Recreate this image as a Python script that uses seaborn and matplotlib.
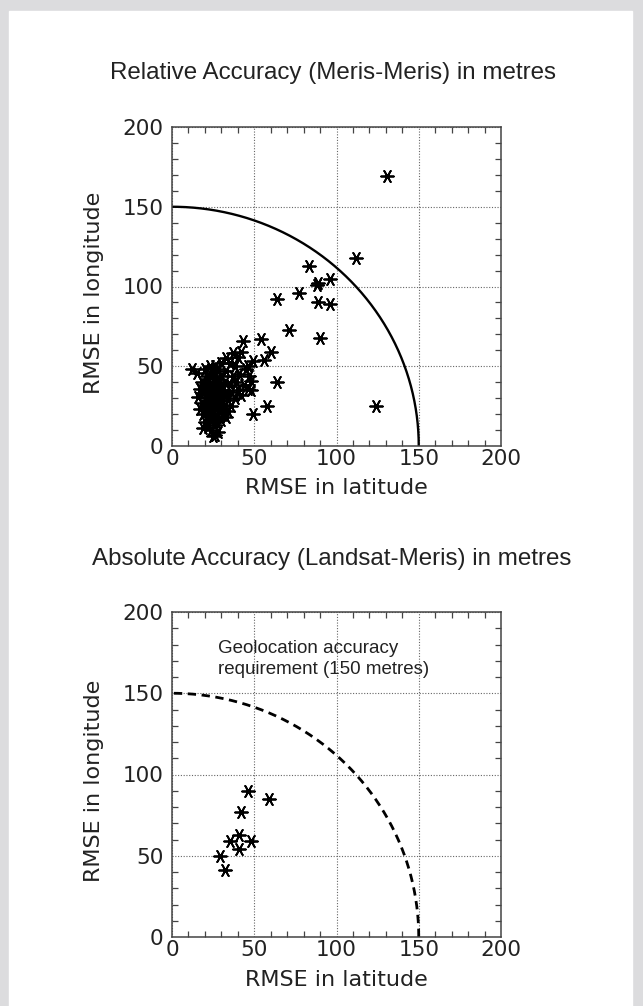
"""Geolocation accuracy scatter: relative (Meris-Meris) and absolute (Landsat-Meris)."""

import matplotlib
matplotlib.use("Agg")
import matplotlib.pyplot as plt
import numpy as np
import pandas as pd
import seaborn as sns
from matplotlib.patches import Rectangle
from matplotlib.ticker import MultipleLocator

# RMSE (metres) per scene pair
rel_lat = [18, 20, 22, 24, 26, 28, 30, 19, 21, 23, 25, 27, 29, 31, 33,
           18, 20, 22, 24, 26, 28, 30, 32, 34, 19, 21, 23, 25, 27, 29, 31,
           20, 22, 24, 26, 28, 25, 23, 27, 21, 25, 23, 17, 16, 17, 35, 36,
           37, 38, 34, 36, 39, 32, 33, 28, 30, 35, 40, 41, 44, 42, 45, 47,
           46, 38, 40, 15, 12, 20, 26, 33, 37, 29, 23, 27, 21, 31, 19, 26,
           30, 33, 24, 22, 28, 30, 26, 24, 21, 23, 25, 27, 22, 26, 24, 28,
           43, 42, 54, 60, 56, 49, 48, 46, 48, 64, 58, 49,
           131, 112, 83, 96, 88, 89, 77, 64, 89, 96, 71, 90, 124]
rel_lon = [40, 38, 42, 36, 40, 38, 44, 33, 30, 34, 31, 33, 30, 35, 32,
           27, 25, 28, 24, 27, 25, 28, 26, 29, 20, 22, 19, 21, 18, 22, 20,
           15, 12, 10, 13, 9, 6, 16, 15, 44, 46, 50, 36, 31, 23, 38, 34,
           44, 30, 22, 25, 40, 40, 47, 48, 52, 52, 35, 45, 38, 32, 48, 44,
           36, 50, 56, 46, 48, 48, 50, 55, 58, 35, 26, 29, 36, 24, 11, 7,
           16, 18, 28, 31, 33, 38, 44, 39, 27, 37, 34, 23, 19, 31, 17, 42,
           66, 59, 67, 59, 54, 53, 41, 50, 35, 40, 25, 20,
           169, 118, 113, 105, 101, 102, 96, 92, 90, 89, 73, 68, 25]

abs_lat = [29, 32, 35, 41, 41, 42, 46, 48, 59]
abs_lon = [50, 41, 59, 63, 54, 77, 90, 59, 85]

REQUIREMENT = 150  # metres
AXIS_MAX = 200
MAJOR = [0, 50, 100, 150, 200]

TITLE_TOP = "Relative Accuracy (Meris-Meris) in metres"
TITLE_BOTTOM = "Absolute Accuracy (Landsat-Meris) in metres"
NOTE = "Geolocation accuracy\nrequirement (150 metres)"

W, H = 643, 1006

sns.set_style("white")
plt.rcParams["font.family"] = ["DejaVu Sans"]

fig = plt.figure(figsize=(W / 100, H / 100), dpi=100)
fig.patch.set_facecolor("#dcdcde")
fig.add_artist(Rectangle((9 / W, 0), (632 - 9) / W, 1 - 11 / H,
                         transform=fig.transFigure, color="white", zorder=0))

ax1 = fig.add_axes([172 / W, 1 - 446 / H, 329 / W, 319 / H])
ax2 = fig.add_axes([172 / W, 1 - 937 / H, 329 / W, 325 / H])

theta = np.linspace(0, np.pi / 2, 200)
circle = pd.DataFrame({"x": REQUIREMENT * np.cos(theta), "y": REQUIREMENT * np.sin(theta)})

star = (6, 2, 90)


def style_axes(ax):
    ax.set_facecolor("white")
    ax.set_xlim(0, AXIS_MAX)
    ax.set_ylim(0, AXIS_MAX)
    ax.set_xticks(MAJOR)
    ax.set_yticks(MAJOR)
    ax.set_xticklabels([str(v) for v in MAJOR])
    ax.set_yticklabels([str(v) for v in MAJOR])
    ax.xaxis.set_minor_locator(MultipleLocator(10))
    ax.yaxis.set_minor_locator(MultipleLocator(10))
    ax.tick_params(which="major", length=0, labelsize=15.5, colors="#222")
    ax.tick_params(axis="x", which="major", pad=2)
    ax.tick_params(axis="y", which="major", pad=6)
    ax.tick_params(which="minor", direction="in", length=4, width=0.9,
                   color="#444", top=True, right=True, bottom=True, left=True)
    ax.grid(True, which="major", linestyle=(0, (1, 1.5)), color="#666", linewidth=0.8)
    for sp in ax.spines.values():
        sp.set_visible(True)
        sp.set_color("#444")
        sp.set_linewidth(1.1)
    ax.set_xlabel("RMSE in latitude", fontsize=16, color="#222")
    ax.set_ylabel("RMSE in longitude", fontsize=16, color="#222")
    ax.xaxis.set_label_coords(0.5, -0.1)
    ax.yaxis.set_label_coords(-0.208, 0.48)


sns.lineplot(data=circle, x="x", y="y", sort=False, color="black", linewidth=1.7, ax=ax1)
sns.scatterplot(x=rel_lat, y=rel_lon, marker=star, s=85, color="black",
                linewidth=1.3, ax=ax1, zorder=3)
style_axes(ax1)

sns.lineplot(data=circle, x="x", y="y", sort=False, color="black", linewidth=2.0,
             linestyle=(0, (3, 2)), ax=ax2)
sns.scatterplot(x=abs_lat, y=abs_lon, marker=star, s=85, color="black",
                linewidth=1.3, ax=ax2, zorder=3)
style_axes(ax2)
ax2.text(28, 171, NOTE, fontsize=13.5, family="Liberation Sans", color="#222",
         ha="left", va="center", linespacing=1.3)

fig.text(333 / W, 1 - 73 / H, TITLE_TOP, fontsize=17.4, family="Liberation Sans",
         ha="center", va="center", color="#222")
fig.text(332 / W, 1 - 559 / H, TITLE_BOTTOM, fontsize=17.4, family="Liberation Sans",
         ha="center", va="center", color="#222")

fig.savefig("out.png", dpi=100, facecolor=fig.get_facecolor())
